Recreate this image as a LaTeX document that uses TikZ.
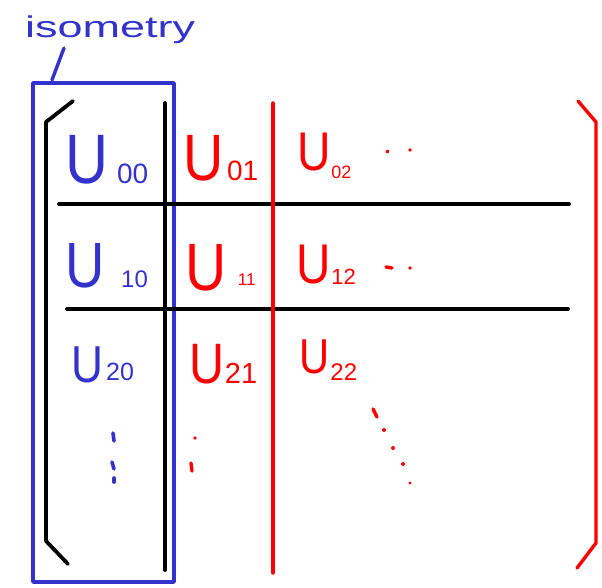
\documentclass[tikz,border=0pt]{standalone}
\usepackage{fontspec}
\setmainfont{Liberation Sans}
\definecolor{penblue}{RGB}{51,51,204}
\definecolor{penred}{RGB}{255,0,0}
\newcommand{\ent}[5]{\scalebox{0.85}[1]{\fontsize{#1}{#1}\selectfont U}\hspace{#2pt}\raisebox{#3pt}{\fontsize{#4}{#4}\selectfont #5}}
\begin{document}
\begin{tikzpicture}[x=1pt,y=-1pt,line cap=round,line join=round,
  blk/.style={line width=3.8pt,black},
  bln/.style={line width=3.8pt,penblue},
  rdn/.style={line width=3.4pt,penred},
  entb/.style={anchor=base west,inner sep=0pt,text=penblue},
  entr/.style={anchor=base west,inner sep=0pt,text=penred},
  dotb/.style={line width=3.6pt,penblue},
  dotr/.style={line width=3.4pt,penred}]
\useasboundingbox (0,0) rectangle (602,587);
% label
\node[anchor=base west,inner sep=0pt,text=penblue] (lbl) at (25,37)
  {\scalebox{1.5}[1]{\fontsize{30}{30}\selectfont isometry}};
\draw[bln,line width=3.4pt] (64,48) -- (52,80);
% isometry box
\draw[bln] (33,83) rectangle (174,582);
% black bracket
\draw[blk] (73,101) -- (46,122) -- (46,541) -- (68,564);
\draw[blk] (165,103) -- (165,570);
\draw[blk] (59,204) -- (569,204);
\draw[blk] (67,309) -- (568,309);
% red lines
\draw[rdn] (273,103) -- (273,573);
\draw[rdn] (578,101) -- (596,122) -- (596,543) -- (577,568);
% entries
\node[entb] (u00) at (65.3,183) {\ent{70}{8.6}{0}{28}{00}};
\node[entr] (u01) at (183.6,180) {\ent{65.6}{3}{0}{28}{01}};
\node[entr] (u02) at (297.3,170) {\ent{54.5}{0.5}{-8}{18}{02}};
\node[entb] (u10) at (65.7,287) {\ent{64}{16}{0}{24}{10}};
\node[entr] (u11) at (185.5,290) {\ent{67}{11}{5}{17}{11}};
\node[entr] (u12) at (296.2,283) {\ent{56}{0.5}{-1}{22}{12}};
\node[entb] (u20) at (71.5,382) {\ent{52}{2.6}{2}{25}{20}};
\node[entr] (u21) at (189.2,383) {\ent{57}{0.5}{0}{29}{21}};
\node[entr] (u22) at (299.7,373) {\ent{49}{0.5}{-7}{24}{22}};
% dots
\draw[dotr] (387,152) -- (388,151);
\fill[penred] (410,150) circle (1.9);
\draw[dotr] (386,267) -- (392,268);
\fill[penred] (410,268) circle (1.9);
\draw[dotb] (113,433) -- (114,441);
\draw[dotb] (112,462) -- (114,469);
\draw[dotb] (114,478) -- (114,482);
\fill[penred] (195,438) circle (1.9);
\draw[dotr] (191,463) -- (192,471);
\draw[dotr] (373,409) -- (377,417);
\fill[penred] (384,430) circle (2);
\fill[penred] (393,448) circle (2);
\fill[penred] (403,464) circle (2);
\fill[penred] (410,483) circle (1.7);
\end{tikzpicture}
\end{document}
